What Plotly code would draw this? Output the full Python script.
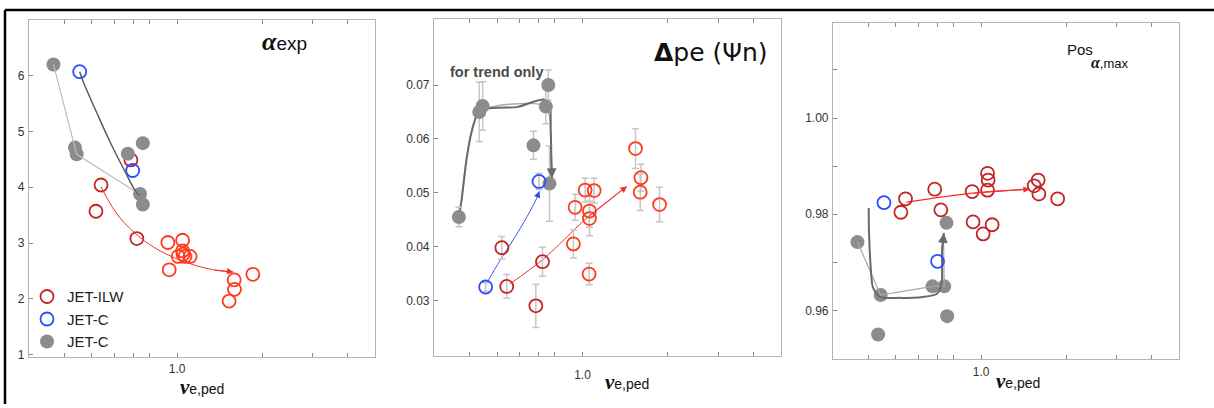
import numpy as np
import plotly.graph_objects as go

# ---------------- data ----------------
# Panel 1: alpha_exp vs nu_e,ped
p1_ilw_dark_x = [0.687, 0.539, 0.517, 0.721]
p1_ilw_dark_y = [4.49, 4.04, 3.57, 3.08]
p1_ilw_x = [0.928, 1.046, 1.046, 1.010, 1.066, 1.112, 1.050, 0.938, 1.591, 1.595, 1.527, 1.852]
p1_ilw_y = [3.01, 3.05, 2.86, 2.76, 2.76, 2.76, 2.80, 2.52, 2.34, 2.17, 1.96, 2.44]
p1_c_open_x = [0.453, 0.697]
p1_c_open_y = [6.07, 4.30]
p1_c_fill_x = [0.366, 0.436, 0.442, 0.670, 0.757, 0.740, 0.757]
p1_c_fill_y = [6.20, 4.71, 4.59, 4.60, 4.79, 3.88, 3.69]
p1_trend_fill_x = [0.366, 0.442, 0.740]
p1_trend_fill_y = [6.20, 4.59, 3.87]
p1_trend_open_x = [0.453, 0.467, 0.520, 0.580, 0.646, 0.721, 0.740]
p1_trend_open_y = [6.07, 5.88, 5.34, 4.81, 4.34, 3.90, 3.86]
p1_trend_ilw_x = [0.539, 0.565, 0.629, 0.740, 0.871, 1.082, 1.344, 1.581]
p1_trend_ilw_y = [4.01, 3.81, 3.45, 3.10, 2.86, 2.65, 2.52, 2.48]

# Panel 2: delta pe (psi_n) vs nu_e,ped
p2_ilw_dark_x = [0.520, 0.541, 0.723, 0.685]
p2_ilw_dark_y = [0.0398, 0.0326, 0.0372, 0.0290]
p2_ilw_dark_err = [0.0021, 0.0022, 0.0027, 0.0040]
p2_ilw_x = [0.929, 0.942, 1.022, 1.099, 1.058, 1.058, 1.055, 1.537, 1.606, 1.597, 1.868]
p2_ilw_y = [0.0405, 0.0473, 0.0505, 0.0504, 0.0466, 0.0452, 0.0349, 0.0582, 0.0528, 0.0501, 0.0478]
p2_ilw_err = [0.0026, 0.0024, 0.0022, 0.0023, 0.0030, 0.0032, 0.0020, 0.0037, 0.0025, 0.0034, 0.0032]
p2_c_open_x = [0.456, 0.703]
p2_c_open_y = [0.0325, 0.0521]
p2_c_open_err = [0.0008, 0.0015]
p2_c_fill_x = [0.367, 0.433, 0.445, 0.672, 0.758, 0.743, 0.765]
p2_c_fill_y = [0.0455, 0.0650, 0.0661, 0.0588, 0.0700, 0.0660, 0.0517]
p2_c_fill_err = [0.0018, 0.0055, 0.0045, 0.0026, 0.0028, 0.0032, 0.0070]
p2_trend_fill_x = [0.367, 0.376, 0.391, 0.407, 0.433, 0.512, 0.587, 0.672, 0.728, 0.765, 0.773, 0.780]
p2_trend_fill_y = [0.0456, 0.0490, 0.0564, 0.0613, 0.0653, 0.0658, 0.0659, 0.0669, 0.0673, 0.0668, 0.0613, 0.0527]
p2_trend_fill2_x = [0.370, 0.433, 0.743, 0.765]
p2_trend_fill2_y = [0.0455, 0.0650, 0.0660, 0.0530]
p2_trend_open_x = [0.462, 0.512, 0.587, 0.654, 0.690, 0.705]
p2_trend_open_y = [0.0334, 0.0374, 0.0423, 0.0466, 0.0490, 0.0503]
p2_trend_ilw_x = [0.556, 0.728, 1.036, 1.434]
p2_trend_ilw_y = [0.0331, 0.0377, 0.0453, 0.0512]

# Panel 3: Pos alpha,max vs nu_e,ped
p3_ilw_x = [0.521, 0.541, 0.686, 0.721, 0.930, 0.937, 1.017, 1.094, 1.054, 1.059, 1.054, 1.540, 1.591, 1.600, 1.864]
p3_ilw_y = [0.9804, 0.9832, 0.9852, 0.9809, 0.9847, 0.9784, 0.9759, 0.9778, 0.9885, 0.9871, 0.9850, 0.9859, 0.9871, 0.9842, 0.9832]
p3_c_open_x = [0.454, 0.702]
p3_c_open_y = [0.9824, 0.9702]
p3_c_fill_x = [0.366, 0.442, 0.433, 0.674, 0.741, 0.755, 0.759]
p3_c_fill_y = [0.9742, 0.9632, 0.9550, 0.9650, 0.9650, 0.9782, 0.9588]
p3_trend_fill_x = [0.401, 0.402, 0.407, 0.415, 0.439, 0.516, 0.624, 0.696, 0.725, 0.728, 0.739]
p3_trend_fill_y = [0.9813, 0.9765, 0.9696, 0.9648, 0.9628, 0.9626, 0.9628, 0.9634, 0.9655, 0.9724, 0.9761]
p3_trend_fill2_x = [0.366, 0.442, 0.674, 0.741, 0.737]
p3_trend_fill2_y = [0.9742, 0.9632, 0.9650, 0.9650, 0.9745]
p3_trend_ilw_x = [0.545, 0.935, 1.487]
p3_trend_ilw_y = [0.9825, 0.9844, 0.9852]

x_major_vals = [1.0]
x_major_text = ["1.0"]
x_minor_vals = [0.4, 0.5, 0.6, 0.7, 0.8, 2.0, 3.0, 4.0]

# ---------------- styles ----------------
DARK_RED = "#c42424"
RED = "#ff3b1f"
BLUE = "#2a4dff"
GRAY = "#8c8c8c"
ERR = "#c6c6c6"
W, H = 1214, 408
TICKFONT = dict(family="Liberation Sans, Arial", size=12, color="#333")

fig = go.Figure()


def open_pts(x, y, color, xa, ya, name=None, show=False, err=None):
    kw = {}
    if err is not None:
        kw["error_y"] = dict(type="data", array=err, color=ERR, thickness=1.5, width=3.5)
    fig.add_trace(go.Scatter(
        x=x, y=y, mode="markers", xaxis=xa, yaxis=ya, name=name, showlegend=show,
        marker=dict(symbol="circle-open", size=13, color=color, line=dict(width=1.8)), **kw))


def fill_pts(x, y, xa, ya, name=None, show=False, err=None):
    kw = {}
    if err is not None:
        kw["error_y"] = dict(type="data", array=err, color=ERR, thickness=1.5, width=3.5)
    fig.add_trace(go.Scatter(
        x=x, y=y, mode="markers", xaxis=xa, yaxis=ya, name=name, showlegend=show,
        marker=dict(symbol="circle", size=14, color=GRAY, line=dict(width=0)), **kw))


def trend(x, y, color, width, xa, ya, smooth=1.0):
    fig.add_trace(go.Scatter(
        x=x, y=y, mode="lines", xaxis=xa, yaxis=ya, showlegend=False, hoverinfo="skip",
        line=dict(color=color, width=width, shape="spline", smoothing=smooth)))


def arrow(x, y, color, xa, ya, width=1):
    fig.add_annotation(
        x=np.log10(x[-1]), y=y[-1], ax=np.log10(x[-2]), ay=y[-2],
        xref=xa, yref=ya, axref=xa, ayref=ya, text="", showarrow=True,
        arrowhead=2, arrowsize=1.3, arrowwidth=width, arrowcolor=color, standoff=0)


# legend traces first (panel 1)
open_pts(p1_ilw_dark_x, p1_ilw_dark_y, DARK_RED, "x", "y", "JET-ILW", True)
open_pts(p1_c_open_x, p1_c_open_y, BLUE, "x", "y", "JET-C", True)
fill_pts(p1_c_fill_x, p1_c_fill_y, "x", "y", "JET-C", True)

# panel 1 trends
trend(p1_trend_fill_x, p1_trend_fill_y, "#bdbdbd", 1.2, "x", "y", 0)
trend(p1_trend_open_x, p1_trend_open_y, "#5e5e5e", 1.5, "x", "y")
trend(p1_trend_ilw_x, p1_trend_ilw_y, "#f03030", 1, "x", "y")
arrow(p1_trend_ilw_x, p1_trend_ilw_y, "#f03030", "x", "y")
open_pts(p1_ilw_x, p1_ilw_y, RED, "x", "y")

# panel 2
trend(p2_trend_fill2_x, p2_trend_fill2_y, "#a8a8a8", 1.3, "x2", "y2", 0.6)
trend(p2_trend_fill_x, p2_trend_fill_y, "#6a6a6a", 2, "x2", "y2", 0.6)
arrow(p2_trend_fill_x, p2_trend_fill_y, "#6a6a6a", "x2", "y2", 1.5)
trend(p2_trend_open_x, p2_trend_open_y, "#3a5ae0", 1, "x2", "y2")
arrow(p2_trend_open_x, p2_trend_open_y, "#2a4ae0", "x2", "y2")
trend(p2_trend_ilw_x, p2_trend_ilw_y, "#f03030", 1, "x2", "y2")
arrow(p2_trend_ilw_x, p2_trend_ilw_y, "#f03030", "x2", "y2")
fill_pts(p2_c_fill_x, p2_c_fill_y, "x2", "y2", err=p2_c_fill_err)
open_pts(p2_c_open_x, p2_c_open_y, BLUE, "x2", "y2", err=p2_c_open_err)
open_pts(p2_ilw_dark_x, p2_ilw_dark_y, DARK_RED, "x2", "y2", err=p2_ilw_dark_err)
open_pts(p2_ilw_x, p2_ilw_y, RED, "x2", "y2", err=p2_ilw_err)

# panel 3
fill_pts(p3_c_fill_x, p3_c_fill_y, "x3", "y3")
trend(p3_trend_fill2_x, p3_trend_fill2_y, "#a8a8a8", 1.2, "x3", "y3", 0)
trend(p3_trend_fill_x, p3_trend_fill_y, "#6a6a6a", 2, "x3", "y3", 0.7)
arrow(p3_trend_fill_x, p3_trend_fill_y, "#6a6a6a", "x3", "y3", 1.5)
trend(p3_trend_ilw_x, p3_trend_ilw_y, "#f03030", 1.2, "x3", "y3")
arrow(p3_trend_ilw_x, p3_trend_ilw_y, "#f03030", "x3", "y3")
open_pts(p3_c_open_x, p3_c_open_y, BLUE, "x3", "y3")
open_pts(p3_ilw_x, p3_ilw_y, DARK_RED, "x3", "y3")


# ---------------- axes ----------------
def xaxis(a, b, anchor, standoff=0):
    return dict(type="log", range=[np.log10(0.3), np.log10(5)], domain=[a / W, b / W], anchor=anchor,
                tickvals=x_major_vals, ticktext=x_major_text, ticks="inside", ticklen=4,
                tickcolor="#8a8a8a", ticklabelstandoff=standoff,
                minor=dict(tickvals=x_minor_vals, ticks="inside", ticklen=4, tickcolor="#8a8a8a", showgrid=False),
                showline=True, linecolor="#b4b4b4", linewidth=1.2,
                mirror="ticks", showgrid=False, zeroline=False, tickfont=TICKFONT)


def yaxis(top, bot, anchor, rng, tv, tt, minor_vals=None):
    d = dict(range=rng, domain=[1 - bot / H, 1 - top / H], anchor=anchor, tickvals=tv, ticktext=tt,
             ticks="inside", ticklen=4, tickcolor="#8a8a8a", showline=True,
             linecolor="#b4b4b4", linewidth=1.2, mirror=True, showgrid=False,
             zeroline=False, tickfont=TICKFONT, ticklabelstandoff=1)
    if minor_vals:
        d["minor"] = dict(tickvals=minor_vals, ticks="inside", ticklen=4, tickcolor="#8a8a8a", showgrid=False)
    return d


fig.update_layout(
    width=W, height=H, margin=dict(l=0, r=0, t=0, b=0),
    paper_bgcolor="white", plot_bgcolor="white",
    xaxis=xaxis(29, 375, "y", 0),
    xaxis2=xaxis(434, 781, "y2", 7),
    xaxis3=xaxis(833, 1179, "y3", 1),
    yaxis=yaxis(20, 361, "x", [0.95, 7.0], [1, 2, 3, 4, 5, 6], ["1", "2", "3", "4", "5", "6"]),
    yaxis2=yaxis(19, 360, "x2", [0.0196, 0.0823], [0.03, 0.04, 0.05, 0.06, 0.07],
                 ["0.03", "0.04", "0.05", "0.06", "0.07"]),
    yaxis3=yaxis(23, 363, "x3", [0.9498, 1.0198], [0.96, 0.98, 1.00], ["0.96", "0.98", "1.00"],
                 [0.97, 0.99, 1.01]),
    showlegend=True,
    legend=dict(x=27 / W, y=1 - 283 / H, xanchor="left", yanchor="top",
                bgcolor="rgba(0,0,0,0)", font=dict(family="Liberation Sans, Arial", size=15, color="#222"),
                itemwidth=30, tracegroupgap=0),
)


# ---------------- text ----------------
def paper_text(x, y, text, size, color="#111", family="Liberation Sans, Arial"):
    fig.add_annotation(x=x / W, y=1 - y / H, xref="paper", yref="paper", text=text,
                       showarrow=False, xanchor="center", yanchor="middle",
                       font=dict(family=family, size=size, color=color))


nu_title = ('<span style="font-family:Liberation Serif;font-size:21px"><b><i>ν</i></b></span>'
            '<span style="font-size:14px">e,ped</span>')
paper_text(202, 391, nu_title, 14)
paper_text(627, 386, nu_title, 14)
paper_text(1018, 385, nu_title, 14)

paper_text(284, 42, '<span style="font-family:Liberation Serif;font-size:26px"><b><i>α</i></b></span>'
                    '<span style="font-size:19px">exp</span>', 19)
paper_text(711, 53, '<b>Δ</b>pe (Ψn)', 25, family="DejaVu Sans")
paper_text(1080, 50, 'Pos', 15)
paper_text(1110, 63, '<span style="font-family:Liberation Serif;font-size:16px"><b><i>α</i></b></span>,max', 13)
paper_text(496, 73, '<b>for trend only</b>', 14.5, color="#4a4a4a")

# outer frame (top and left edges)
fig.add_shape(type="line", xref="paper", yref="paper", x0=5 / W, x1=1, y0=1 - 10 / H, y1=1 - 10 / H,
              line=dict(color="black", width=2.5))
fig.add_shape(type="line", xref="paper", yref="paper", x0=5 / W, x1=5 / W, y0=0, y1=1 - 10 / H,
              line=dict(color="black", width=2.5))

fig.write_html("out.html", post_script="document.body.style.margin='0';",
               config={"displayModeBar": False})
